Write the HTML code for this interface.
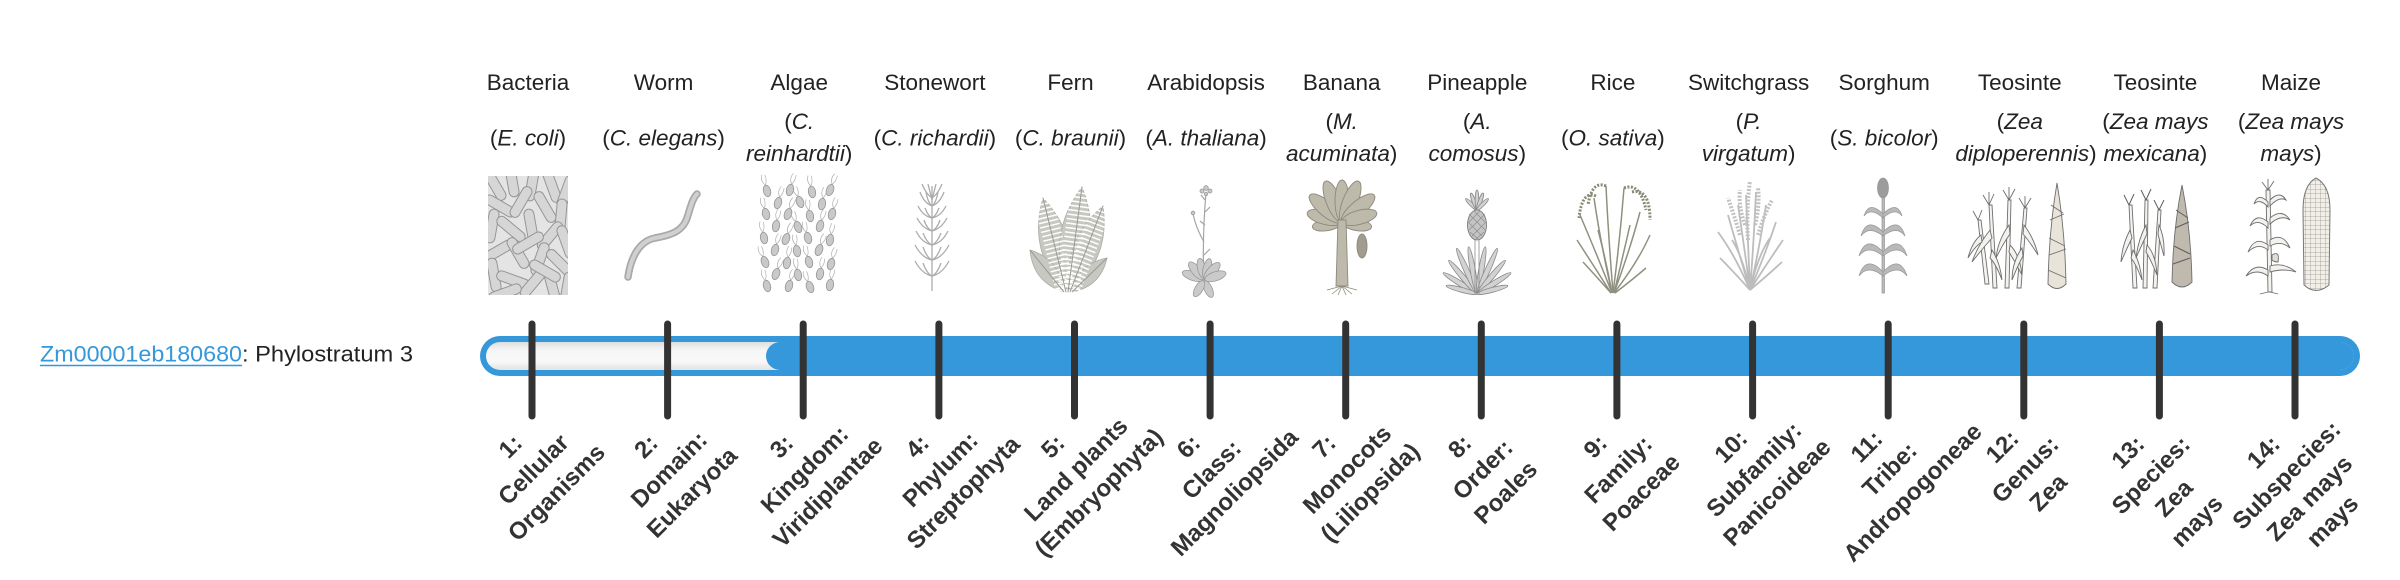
<!DOCTYPE html>
<html><head><meta charset="utf-8"><style>
html,body{margin:0;padding:0;background:#fff;}
svg{display:block;}
</style></head><body>
<svg xmlns="http://www.w3.org/2000/svg" width="2400" height="580" viewBox="0 0 2400 580">
<defs>
<clipPath id="cb"><rect x="488" y="176" width="80" height="119"/></clipPath>
<rect id="rod" x="-17" y="-5" width="34" height="10" rx="5" fill="#d6d6d6" stroke="#959595" stroke-width="1"/>
<g id="al"><path d="M0,-6 q-4,-5 -1,-11 M0,-6 q3,-5 2,-10" stroke="#b0b0b0" fill="none" stroke-width=".7"/><ellipse rx="3.6" ry="5.8" fill="#c9c9c9" stroke="#959595" stroke-width=".8"/></g>
<linearGradient id="trk" x1="0" y1="0" x2="0" y2="1">
<stop offset="0" stop-color="#dedede"/><stop offset=".3" stop-color="#f6f6f6"/><stop offset=".7" stop-color="#f8f8f8"/><stop offset="1" stop-color="#e2e2e2"/>
</linearGradient>
<pattern id="kern" width="5" height="4.5" patternUnits="userSpaceOnUse"><rect width="5" height="4.5" fill="#f2efe9"/><path d="M0,0 H5 M0,0 V4.5" stroke="#9a968e" stroke-width=".8"/></pattern>
</defs>

<!-- Headers -->
<g font-family="'Liberation Sans', Arial, sans-serif" font-size="22.5" fill="#222" text-anchor="middle">
<text x="528" y="90">Bacteria</text>
<text x="663.6" y="90">Worm</text>
<text x="799.2" y="90">Algae</text>
<text x="934.9" y="90">Stonewort</text>
<text x="1070.5" y="90">Fern</text>
<text x="1206.1" y="90">Arabidopsis</text>
<text x="1341.7" y="90">Banana</text>
<text x="1477.3" y="90">Pineapple</text>
<text x="1612.9" y="90">Rice</text>
<text x="1748.6" y="90">Switchgrass</text>
<text x="1884.2" y="90">Sorghum</text>
<text x="2019.8" y="90">Teosinte</text>
<text x="2155.4" y="90">Teosinte</text>
<text x="2291" y="90">Maize</text>

<text x="528" y="145.5">(<tspan font-style="italic">E. coli</tspan>)</text>
<text x="663.6" y="145.5">(<tspan font-style="italic">C. elegans</tspan>)</text>
<text x="799.2" y="129">(<tspan font-style="italic">C.</tspan></text>
<text x="799.2" y="161"><tspan font-style="italic">reinhardtii</tspan>)</text>
<text x="934.9" y="145.5">(<tspan font-style="italic">C. richardii</tspan>)</text>
<text x="1070.5" y="145.5">(<tspan font-style="italic">C. braunii</tspan>)</text>
<text x="1206.1" y="145.5">(<tspan font-style="italic">A. thaliana</tspan>)</text>
<text x="1341.7" y="129">(<tspan font-style="italic">M.</tspan></text>
<text x="1341.7" y="161"><tspan font-style="italic">acuminata</tspan>)</text>
<text x="1477.3" y="129">(<tspan font-style="italic">A.</tspan></text>
<text x="1477.3" y="161"><tspan font-style="italic">comosus</tspan>)</text>
<text x="1612.9" y="145.5">(<tspan font-style="italic">O. sativa</tspan>)</text>
<text x="1748.6" y="129">(<tspan font-style="italic">P.</tspan></text>
<text x="1748.6" y="161"><tspan font-style="italic">virgatum</tspan>)</text>
<text x="1884.2" y="145.5">(<tspan font-style="italic">S. bicolor</tspan>)</text>
<text x="2019.8" y="129">(<tspan font-style="italic">Zea</tspan></text>
<text x="2026" y="161"><tspan font-style="italic">diploperennis</tspan>)</text>
<text x="2155.4" y="129">(<tspan font-style="italic">Zea mays</tspan></text>
<text x="2155.4" y="161"><tspan font-style="italic">mexicana</tspan>)</text>
<text x="2291" y="129">(<tspan font-style="italic">Zea mays</tspan></text>
<text x="2291" y="161"><tspan font-style="italic">mays</tspan>)</text>
</g>

<!-- Images -->
<!-- Bacteria -->
<g clip-path="url(#cb)">
<rect x="488" y="176" width="80" height="119" fill="#e4e4e4"/>
<use href="#rod" transform="translate(495,185) rotate(60)"/>
<use href="#rod" transform="translate(512,180) rotate(80)"/>
<use href="#rod" transform="translate(532,184) rotate(100)"/>
<use href="#rod" transform="translate(552,186) rotate(70)"/>
<use href="#rod" transform="translate(566,192) rotate(110)"/>
<use href="#rod" transform="translate(500,206) rotate(30)"/>
<use href="#rod" transform="translate(521,202) rotate(120)"/>
<use href="#rod" transform="translate(545,207) rotate(60)"/>
<use href="#rod" transform="translate(561,216) rotate(95)"/>
<use href="#rod" transform="translate(492,226) rotate(100)"/>
<use href="#rod" transform="translate(511,229) rotate(40)"/>
<use href="#rod" transform="translate(531,226) rotate(80)"/>
<use href="#rod" transform="translate(550,236) rotate(130)"/>
<use href="#rod" transform="translate(566,242) rotate(70)"/>
<use href="#rod" transform="translate(498,251) rotate(150)"/>
<use href="#rod" transform="translate(518,253) rotate(60)"/>
<use href="#rod" transform="translate(540,259) rotate(110)"/>
<use href="#rod" transform="translate(560,263) rotate(45)"/>
<use href="#rod" transform="translate(494,275) rotate(80)"/>
<use href="#rod" transform="translate(513,280) rotate(20)"/>
<use href="#rod" transform="translate(533,283) rotate(130)"/>
<use href="#rod" transform="translate(552,286) rotate(75)"/>
<use href="#rod" transform="translate(567,289) rotate(100)"/>
<use href="#rod" transform="translate(505,293) rotate(160)"/>
<use href="#rod" transform="translate(545,271) rotate(30)"/>
<use href="#rod" transform="translate(528,243) rotate(150)"/>
</g>
<!-- Worm -->
<path d="M628,277 C631,256 640,241 655,238 C672,235 684,231 688,215 C691,205 693,198 697,194" fill="none" stroke="#a9a9a9" stroke-width="7.5" stroke-linecap="round"/>
<path d="M628,277 C631,256 640,241 655,238 C672,235 684,231 688,215 C691,205 693,198 697,194" fill="none" stroke="#d0d0d0" stroke-width="4" stroke-linecap="round"/>
<!-- Algae -->
<g>
<use href="#al" transform="translate(767,191) rotate(-15)"/><use href="#al" transform="translate(790,190) rotate(15)"/><use href="#al" transform="translate(812,192) rotate(-10)"/><use href="#al" transform="translate(830,190) rotate(20)"/>
<use href="#al" transform="translate(778,203) rotate(15)"/><use href="#al" transform="translate(800,202) rotate(-20)"/><use href="#al" transform="translate(822,204) rotate(10)"/>
<use href="#al" transform="translate(766,214) rotate(-15)"/><use href="#al" transform="translate(788,214) rotate(20)"/><use href="#al" transform="translate(810,216) rotate(-10)"/><use href="#al" transform="translate(832,214) rotate(15)"/>
<use href="#al" transform="translate(776,226) rotate(10)"/><use href="#al" transform="translate(798,227) rotate(-20)"/><use href="#al" transform="translate(820,226) rotate(15)"/>
<use href="#al" transform="translate(764,238) rotate(-10)"/><use href="#al" transform="translate(786,239) rotate(20)"/><use href="#al" transform="translate(808,238) rotate(-15)"/><use href="#al" transform="translate(830,240) rotate(10)"/>
<use href="#al" transform="translate(775,250) rotate(15)"/><use href="#al" transform="translate(797,251) rotate(-10)"/><use href="#al" transform="translate(819,250) rotate(20)"/>
<use href="#al" transform="translate(765,262) rotate(-20)"/><use href="#al" transform="translate(787,263) rotate(10)"/><use href="#al" transform="translate(809,262) rotate(-15)"/><use href="#al" transform="translate(831,264) rotate(15)"/>
<use href="#al" transform="translate(776,274) rotate(20)"/><use href="#al" transform="translate(798,275) rotate(-10)"/><use href="#al" transform="translate(820,274) rotate(10)"/>
<use href="#al" transform="translate(767,286) rotate(-15)"/><use href="#al" transform="translate(789,286) rotate(15)"/><use href="#al" transform="translate(810,287) rotate(-20)"/><use href="#al" transform="translate(830,285) rotate(10)"/>
</g>
<!-- Stonewort -->
<g stroke="#acacac" fill="none" stroke-width="1.3">
<path d="M932,291 V186"/>
<path d="M932,276 q-10,-2 -17,-15 M932,276 q10,-2 17,-15 M932,276 q-5,-2 -9,-13 M932,276 q5,-2 9,-13"/>
<path d="M932,260 q-10,-2 -17,-15 M932,260 q10,-2 17,-15 M932,260 q-5,-2 -9,-13 M932,260 q5,-2 9,-13"/>
<path d="M932,245 q-10,-2 -16,-14 M932,245 q10,-2 16,-14 M932,245 q-5,-2 -9,-12 M932,245 q5,-2 9,-12"/>
<path d="M932,231 q-9,-2 -15,-13 M932,231 q9,-2 15,-13 M932,231 q-5,-2 -8,-11 M932,231 q5,-2 8,-11"/>
<path d="M932,218 q-9,-2 -14,-12 M932,218 q9,-2 14,-12 M932,218 q-4,-2 -7,-10 M932,218 q4,-2 7,-10"/>
<path d="M932,206 q-8,-3 -12,-14 M932,206 q8,-3 12,-14 M932,206 q-4,-3 -6,-14 M932,206 q4,-3 6,-14 M932,200 q-2,-8 -4,-16 M932,200 q2,-8 4,-16 M932,198 q-6,-4 -10,-14 M932,198 q6,-4 10,-14"/>
</g>
<!-- Fern -->
<g fill="#c8c8c2" stroke="#adada7" stroke-width=".8">
<path d="M1066,292 Q1081.7,238.3 1043,198 Q1027.3,251.7 1066,292Z"/>
<path d="M1068,292 Q1104.7,243.5 1082,187 Q1045.3,235.5 1068,292Z"/>
<path d="M1070,292 Q1110.8,258.3 1103,206 Q1062.2,239.7 1070,292Z"/>
<path d="M1064,292 Q1061,259.7 1030,250 Q1033,282.3 1064,292Z"/>
<path d="M1072,292 Q1100.7,286.5 1107,258 Q1078.3,263.5 1072,292Z"/>
</g>
<g fill="none" stroke="#fff" stroke-width="1.2" stroke-dasharray="1.5 3">
<path d="M1066,292 Q1054.5,245 1043,198" stroke-width="20"/>
<path d="M1068,292 Q1075,239.5 1082,187" stroke-width="22"/>
<path d="M1070,292 Q1086.5,249 1103,206" stroke-width="19"/>
</g>
<g fill="none" stroke="#9a9a94" stroke-width="1">
<path d="M1066,292 Q1054.5,245 1043,198 M1068,292 Q1075,239.5 1082,187 M1070,292 Q1086.5,249 1103,206 M1064,292 Q1047,271 1030,250 M1072,292 Q1089.5,275 1107,258"/>
</g>
<!-- Arabidopsis -->
<g fill="none" stroke="#a5a5a5" stroke-width="1.2">
<path d="M1204,282 Q1202,240 1206,192"/>
<path d="M1204,242 Q1196,228 1193,214"/>
<path d="M1205,225 l-5,-4 M1205,212 l5,-5 M1204,255 l6,-6 M1205,200 l-4,-5"/>
</g>
<g fill="#cacaca" stroke="#999" stroke-width=".8">
<ellipse cx="1204" cy="268" rx="4.5" ry="11" transform="rotate(-70 1204 280)"/>
<ellipse cx="1204" cy="268" rx="4.5" ry="11" transform="rotate(-40 1204 280)"/>
<ellipse cx="1204" cy="268" rx="4" ry="10" transform="rotate(-12 1204 280)"/>
<ellipse cx="1204" cy="268" rx="4" ry="10" transform="rotate(15 1204 280)"/>
<ellipse cx="1204" cy="268" rx="4.5" ry="11" transform="rotate(42 1204 280)"/>
<ellipse cx="1204" cy="268" rx="4.5" ry="11" transform="rotate(72 1204 280)"/>
<ellipse cx="1204" cy="270" rx="4" ry="9" transform="rotate(155 1204 280)"/>
<ellipse cx="1204" cy="270" rx="4" ry="9" transform="rotate(-150 1204 280)"/>
<circle cx="1206" cy="188" r="2.3"/><circle cx="1202" cy="191" r="2"/><circle cx="1210" cy="191" r="2"/><circle cx="1206" cy="194" r="1.8"/><circle cx="1193" cy="213" r="1.8"/>
</g>
<!-- Banana -->
<g fill="#bdb9ab" stroke="#8d897b" stroke-width=".9">
<g transform="translate(1342,222)">
<ellipse rx="6" ry="15" transform="rotate(-100) translate(0,-15)"/>
<ellipse rx="6" ry="15" transform="rotate(100) translate(0,-15)"/>
<ellipse rx="7" ry="18" transform="rotate(-75) translate(0,-18)"/>
<ellipse rx="7.5" ry="21" transform="rotate(-50) translate(0,-21)"/>
<ellipse rx="7.5" ry="22" transform="rotate(-22) translate(0,-22)"/>
<ellipse rx="7" ry="21" transform="rotate(0) translate(0,-21)"/>
<ellipse rx="7.5" ry="22" transform="rotate(22) translate(0,-22)"/>
<ellipse rx="7.5" ry="21" transform="rotate(50) translate(0,-21)"/>
<ellipse rx="7" ry="18" transform="rotate(75) translate(0,-18)"/>
</g>
<path d="M1336,286 L1338,220 L1346,220 L1348,286Z"/>
<ellipse cx="1362" cy="246" rx="5" ry="12" fill="#a09c8e"/>
</g>
<path d="M1342,286 l-10,8 M1342,286 l10,8 M1342,286 l-4,9 M1342,286 l4,9 M1342,286 l-15,4 M1342,286 l15,4" stroke="#8d897b" stroke-width=".8" fill="none"/>
<!-- Pineapple -->
<g fill="#d2d2d2" stroke="#8a8a8a" stroke-width=".8">
<g transform="translate(1477,294)">
<ellipse rx="2.6" ry="20" transform="rotate(-58) translate(0,-20)"/>
<ellipse rx="2.6" ry="22" transform="rotate(-40) translate(0,-22)"/>
<ellipse rx="2.6" ry="25" transform="rotate(-24) translate(0,-25)"/>
<ellipse rx="2.6" ry="24" transform="rotate(-10) translate(0,-24)"/>
<ellipse rx="2.6" ry="24" transform="rotate(10) translate(0,-24)"/>
<ellipse rx="2.6" ry="25" transform="rotate(24) translate(0,-25)"/>
<ellipse rx="2.6" ry="22" transform="rotate(40) translate(0,-22)"/>
<ellipse rx="2.6" ry="20" transform="rotate(58) translate(0,-20)"/>
<ellipse rx="2.4" ry="16" transform="rotate(-75) translate(0,-16)"/>
<ellipse rx="2.4" ry="16" transform="rotate(75) translate(0,-16)"/>
</g>
<path d="M1475,294 V240 M1479,294 V240" fill="none"/>
<ellipse cx="1477" cy="225" rx="9.5" ry="15" fill="#c4c4c4" stroke="#707070"/>
<g transform="translate(1477,210)">
<ellipse rx="1.8" ry="8" transform="rotate(-45) translate(0,-8)"/>
<ellipse rx="1.8" ry="9" transform="rotate(-20) translate(0,-9)"/>
<ellipse rx="1.8" ry="10" transform="translate(0,-10)"/>
<ellipse rx="1.8" ry="9" transform="rotate(20) translate(0,-9)"/>
<ellipse rx="1.8" ry="8" transform="rotate(45) translate(0,-8)"/>
</g>
</g>
<path d="M1469,214 l16,16 M1468,222 l14,14 M1470,232 l8,7 M1474,211 l11,11 M1485,214 l-16,16 M1486,222 l-14,14 M1484,232 l-8,7 M1480,211 l-11,11" stroke="#8a8a8a" stroke-width=".6" fill="none"/>
<!-- Rice -->
<g fill="none" stroke="#909080" stroke-width="1.5">
<path d="M1612,293 Q1595,250 1580,215"/>
<path d="M1612,293 Q1600,240 1594,198"/>
<path d="M1613,293 Q1608,230 1606,186"/>
<path d="M1613,293 Q1620,240 1624,188"/>
<path d="M1614,293 Q1630,250 1640,212"/>
<path d="M1614,293 Q1638,262 1650,235"/>
<path d="M1611,293 Q1595,275 1583,262"/>
<path d="M1615,293 Q1632,280 1646,268"/>
<path d="M1611,293 Q1590,260 1577,240"/>
<path d="M1612,293 Q1606,260 1598,230"/>
<path d="M1614,293 Q1622,260 1630,225"/>
</g>
<g fill="none" stroke="#8a8a78" stroke-width="3" stroke-dasharray="2 1.5">
<path d="M1596,196 Q1582,190 1579,218"/>
<path d="M1606,186 Q1592,180 1588,205"/>
<path d="M1624,188 Q1640,182 1646,210"/>
<path d="M1632,192 Q1650,188 1650,220"/>
</g>
<!-- Switchgrass -->
<g fill="none" stroke="#bdbdbd" stroke-width="1.8">
<path d="M1750,290 Q1735,255 1718,232 M1750,290 Q1738,250 1728,215 M1750,290 Q1744,245 1738,205 M1750,290 Q1748,240 1746,195 M1750,290 Q1754,240 1756,192 M1750,290 Q1760,245 1766,205 M1750,290 Q1765,255 1776,222 M1750,290 Q1768,262 1783,240 M1750,290 Q1732,270 1720,258 M1750,290 Q1768,275 1782,262 M1750,290 Q1742,255 1732,240 M1750,290 Q1758,255 1770,238"/>
</g>
<g fill="none" stroke="#c2c2c2" stroke-width="4" stroke-dasharray="2 1.5">
<path d="M1748,240 Q1746,210 1750,181"/>
<path d="M1740,235 Q1734,215 1728,198"/>
<path d="M1758,235 Q1764,215 1772,200"/>
<path d="M1745,225 Q1738,205 1740,190"/>
<path d="M1755,225 Q1760,205 1758,188"/>
</g>
<!-- Sorghum -->
<g fill="#b9b9b9" stroke="#979797" stroke-width=".7">
<path d="M1882,293 V194 H1884.5 V293Z"/>
<ellipse cx="1883" cy="188" rx="5.5" ry="10" fill="#9c9c9c"/>
<path d="M1883,272 Q1866,254 1859,276 Q1868,264 1883,276Z"/>
<path d="M1883,272 Q1900,254 1907,276 Q1898,264 1883,276Z"/>
<path d="M1883,252 Q1866,234 1859,256 Q1868,244 1883,256Z"/>
<path d="M1883,252 Q1900,234 1907,256 Q1898,244 1883,256Z"/>
<path d="M1883,232 Q1867,216 1861,236 Q1869,225 1883,236Z"/>
<path d="M1883,232 Q1899,216 1905,236 Q1897,225 1883,236Z"/>
<path d="M1883,214 Q1869,200 1864,216 Q1871,207 1883,218Z"/>
<path d="M1883,214 Q1897,200 1902,216 Q1895,207 1883,218Z"/>
</g>
<!-- Teosinte 1 -->
<g fill="#f4f2ee" stroke="#6e6e6e" stroke-width=".9">
<path d="M1993,288 L1989,205 L1992,205 L1997,288Z"/>
<path d="M2005,288 L2008,200 L2011,200 L2009,288Z"/>
<path d="M2017,288 L2024,208 L2027,208 L2021,288Z"/>
<path d="M1985,284 L1978,220 L1981,220 L1989,284Z"/>
<path d="M1990,230 Q1978,245 1972,262 Q1983,248 1992,238Z"/>
<path d="M1992,250 Q2000,262 2002,280 Q1996,264 1990,258Z"/>
<path d="M2009,225 Q1998,240 1996,258 Q2004,242 2010,234Z"/>
<path d="M2010,245 Q2020,255 2022,275 Q2014,260 2009,252Z"/>
<path d="M2024,225 Q2034,238 2038,255 Q2030,242 2023,234Z"/>
<path d="M2022,248 Q2012,262 2012,280 Q2018,265 2023,256Z"/>
<path d="M1981,235 Q1972,242 1968,258 Q1975,246 1982,242Z"/>
<path d="M2057,183 Q2049,230 2048,284 Q2057,293 2066,284 Q2065,230 2057,183Z" fill="#e9e4da"/>
</g>
<path d="M1989,205 l-6,-10 M1989,205 l5,-11 M1989,205 l0,-13 M2009,200 l-6,-10 M2009,200 l6,-11 M2009,200 l0,-13 M2025,208 l-6,-10 M2025,208 l6,-10 M2025,208 l0,-12 M1978,220 l-5,-9 M1978,220 l4,-10 M2051,205 l12,8 M2050,220 l14,-6 M2049,238 l16,8 M2049,255 l17,-6 M2048,270 l18,8" stroke="#6e6e6e" stroke-width=".9" fill="none"/>
<!-- Teosinte 2 -->
<g fill="#f4f2ee" stroke="#6e6e6e" stroke-width=".9">
<path d="M2133,288 L2129,205 L2132,205 L2137,288Z"/>
<path d="M2143,288 L2145,200 L2148,200 L2147,288Z"/>
<path d="M2153,288 L2158,210 L2161,210 L2157,288Z"/>
<path d="M2130,230 Q2122,245 2121,262 Q2127,248 2132,238Z"/>
<path d="M2133,250 Q2140,262 2142,280 Q2136,264 2131,258Z"/>
<path d="M2146,225 Q2138,240 2136,258 Q2143,242 2147,234Z"/>
<path d="M2147,245 Q2156,255 2157,275 Q2151,260 2146,252Z"/>
<path d="M2159,225 Q2165,238 2164,256 Q2160,242 2158,234Z"/>
<path d="M2182,185 Q2173,230 2172,282 Q2182,292 2192,282 Q2191,230 2182,185Z" fill="#bfb9ae"/>
</g>
<path d="M2129,205 l-5,-10 M2129,205 l5,-11 M2146,200 l-5,-10 M2146,200 l5,-11 M2159,210 l-5,-10 M2159,210 l5,-10 M2176,210 l12,8 M2175,228 l14,-6 M2174,246 l16,8 M2173,264 l17,-6" stroke="#5e5e5e" stroke-width="1" fill="none"/>
<!-- Maize -->
<g fill="#f4f2ee" stroke="#6e6e6e" stroke-width=".9">
<path d="M2268,292 L2266,190 L2270,190 L2272,292Z"/>
<path d="M2268,270 Q2255,262 2246,276 Q2257,268 2268,276Z"/>
<path d="M2270,266 Q2284,262 2296,272 Q2284,268 2270,272Z"/>
<path d="M2268,245 Q2255,235 2248,252 Q2258,242 2268,250Z"/>
<path d="M2270,240 Q2283,232 2290,248 Q2281,240 2270,246Z"/>
<path d="M2268,222 Q2256,212 2250,226 Q2258,218 2268,228Z"/>
<path d="M2270,218 Q2282,208 2290,220 Q2281,214 2270,224Z"/>
<path d="M2268,202 Q2258,192 2254,204 Q2260,198 2268,207Z"/>
<path d="M2270,200 Q2280,190 2286,200 Q2279,196 2270,206Z"/>
<path d="M2272,255 Q2280,250 2278,262 Q2274,262 2272,260Z" fill="#e0ddd6"/>
</g>
<path d="M2268,190 l-6,-8 M2268,190 l6,-9 M2268,190 l0,-11 M2268,292 l-8,2 M2270,292 l8,2" stroke="#6e6e6e" stroke-width=".9" fill="none"/>
<path d="M2316,178 Q2303,185 2303,210 L2304,285 Q2316,296 2329,285 L2330,210 Q2330,185 2316,178Z" fill="url(#kern)" stroke="#777" stroke-width="1"/>

<!-- Bar -->
<rect x="480" y="336" width="1880" height="40" rx="20" fill="#3498db"/>
<rect x="486" y="342" width="1868" height="28" rx="14" fill="url(#trk)"/>
<rect x="766" y="342" width="1588" height="28" rx="14" fill="#3498db"/>

<!-- Ticks -->
<g stroke="#333" stroke-width="7" stroke-linecap="round">
<line x1="532" y1="324" x2="532" y2="416"/>
<line x1="667.6" y1="324" x2="667.6" y2="416"/>
<line x1="803.2" y1="324" x2="803.2" y2="416"/>
<line x1="938.9" y1="324" x2="938.9" y2="416"/>
<line x1="1074.5" y1="324" x2="1074.5" y2="416"/>
<line x1="1210.1" y1="324" x2="1210.1" y2="416"/>
<line x1="1345.7" y1="324" x2="1345.7" y2="416"/>
<line x1="1481.3" y1="324" x2="1481.3" y2="416"/>
<line x1="1616.9" y1="324" x2="1616.9" y2="416"/>
<line x1="1752.6" y1="324" x2="1752.6" y2="416"/>
<line x1="1888.2" y1="324" x2="1888.2" y2="416"/>
<line x1="2023.8" y1="324" x2="2023.8" y2="416"/>
<line x1="2159.4" y1="324" x2="2159.4" y2="416"/>
<line x1="2295" y1="324" x2="2295" y2="416"/>
</g>

<!-- Gene label -->
<g font-family="'Liberation Sans', Arial, sans-serif" font-size="22.5">
<text x="40" y="361.5" fill="#3498db" textLength="202" lengthAdjust="spacingAndGlyphs">Zm00001eb180680</text>
<text x="242" y="361.5" fill="#222" textLength="171" lengthAdjust="spacingAndGlyphs">: Phylostratum 3</text>
</g>
<line x1="40" y1="365.5" x2="242" y2="365.5" stroke="#3498db" stroke-width="1.6"/>

<!-- Rotated labels -->
<g font-family="'Liberation Sans', Arial, sans-serif" font-weight="bold" font-size="24" fill="#333" text-anchor="middle">
<g transform="translate(532,0) rotate(-45)"><text x="-331" y="308.5">1:</text><text x="-331" y="341">Cellular</text><text x="-331" y="373.5">Organisms</text></g>
<g transform="translate(667.6,0) rotate(-45)"><text x="-331" y="308.5">2:</text><text x="-331" y="341">Domain:</text><text x="-331" y="373.5">Eukaryota</text></g>
<g transform="translate(803.2,0) rotate(-45)"><text x="-331" y="308.5">3:</text><text x="-331" y="341">Kingdom:</text><text x="-331" y="373.5">Viridiplantae</text></g>
<g transform="translate(938.9,0) rotate(-45)"><text x="-331" y="308.5">4:</text><text x="-331" y="341">Phylum:</text><text x="-331" y="373.5">Streptophyta</text></g>
<g transform="translate(1074.5,0) rotate(-45)"><text x="-331" y="308.5">5:</text><text x="-331" y="341">Land plants</text><text x="-331" y="373.5">(Embryophyta)</text></g>
<g transform="translate(1210.1,0) rotate(-45)"><text x="-331" y="308.5">6:</text><text x="-331" y="341">Class:</text><text x="-331" y="373.5">Magnoliopsida</text></g>
<g transform="translate(1345.7,0) rotate(-45)"><text x="-331" y="308.5">7:</text><text x="-331" y="341">Monocots</text><text x="-331" y="373.5">(Liliopsida)</text></g>
<g transform="translate(1481.3,0) rotate(-45)"><text x="-331" y="308.5">8:</text><text x="-331" y="341">Order:</text><text x="-331" y="373.5">Poales</text></g>
<g transform="translate(1616.9,0) rotate(-45)"><text x="-331" y="308.5">9:</text><text x="-331" y="341">Family:</text><text x="-331" y="373.5">Poaceae</text></g>
<g transform="translate(1752.6,0) rotate(-45)"><text x="-331" y="308.5">10:</text><text x="-331" y="341">Subfamily:</text><text x="-331" y="373.5">Panicoideae</text></g>
<g transform="translate(1888.2,0) rotate(-45)"><text x="-331" y="308.5">11:</text><text x="-331" y="341">Tribe:</text><text x="-331" y="373.5">Andropogoneae</text></g>
<g transform="translate(2023.8,0) rotate(-45)"><text x="-331" y="308.5">12:</text><text x="-331" y="341">Genus:</text><text x="-331" y="373.5">Zea</text></g>
<g transform="translate(2159.4,0) rotate(-45)"><text x="-342" y="305.5">13:</text><text x="-342" y="338">Species:</text><text x="-342" y="370.5">Zea</text><text x="-342" y="403">mays</text></g>
<g transform="translate(2295,0) rotate(-45)"><text x="-342" y="305.5">14:</text><text x="-342" y="338">Subspecies:</text><text x="-342" y="370.5">Zea mays</text><text x="-342" y="403">mays</text></g>
</g>
</svg>
</body></html>
